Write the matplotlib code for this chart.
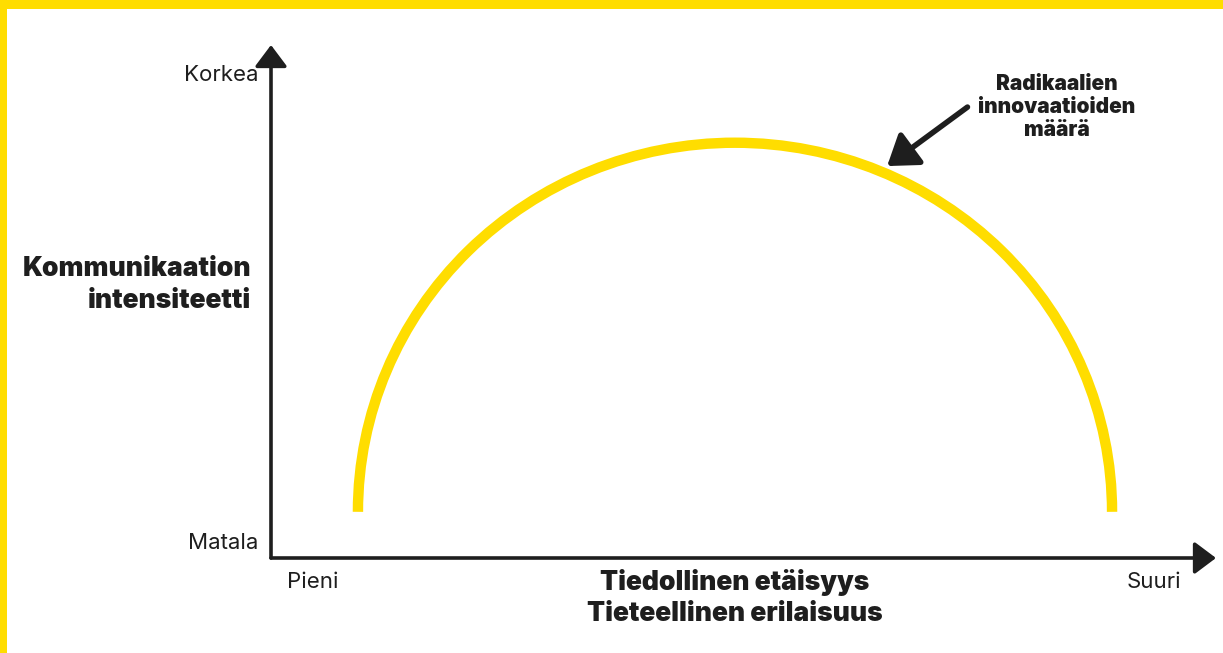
import matplotlib.pyplot as plt
from matplotlib.patches import Arc, Rectangle

# chart content
x_labels = ["Pieni", "Suuri"]
y_labels = ["Matala", "Korkea"]
x_title = ["Tiedollinen etäisyys", "Tieteellinen erilaisuus"]
y_title = ["Kommunikaation", "intensiteetti"]
curve_label = ["Radikaalien", "innovaatioiden", "määrä"]

# the curve (half ellipse) in axis units, 0..1 on both axes
arc_center = (0.491, 0.090)
arc_width = 0.798
arc_height = 1.439

# arrow pointing to the curve
note_xy = (0.652, 0.764)
note_text_xy = (0.737, 0.879)

YELLOW = "#FFDD00"
INK = "#1e1e1e"

plt.rcParams['font.family'] = ['Inter', 'DejaVu Sans']

fig = plt.figure(figsize=(12.23, 6.53), dpi=100)
fig.patch.set_facecolor("white")

# yellow frame on top and left
fig.add_artist(Rectangle((0, 1 - 9 / 653), 1, 9 / 653, transform=fig.transFigure,
                         facecolor=YELLOW, edgecolor="none"))
fig.add_artist(Rectangle((0, 0), 7 / 1223, 1, transform=fig.transFigure,
                         facecolor=YELLOW, edgecolor="none"))

ax = fig.add_axes([271 / 1223, (653 - 558) / 653, (1216 - 271) / 1223, (558 - 45) / 653])
ax.set_xlim(0, 1)
ax.set_ylim(0, 1)
ax.axis("off")

# axes with arrow heads
arrow_kw = dict(arrowstyle="-|>,head_length=0.6,head_width=0.45", color=INK, lw=2.6,
                mutation_scale=22, shrinkA=0, shrinkB=0)
ax.annotate("", xy=(1, 0), xytext=(0, 0), arrowprops=arrow_kw, annotation_clip=False)
ax.annotate("", xy=(0, 1), xytext=(0, 0), arrowprops=arrow_kw, annotation_clip=False)

# curve
ax.add_patch(Arc(arc_center, arc_width, arc_height, theta1=0, theta2=180,
                 color=YELLOW, lw=7.5, capstyle="butt"))

# curve annotation arrow
ax.annotate("", xy=note_xy, xytext=note_text_xy,
            arrowprops=dict(arrowstyle="-|>,head_length=0.8,head_width=0.55", color=INK,
                            lw=4, mutation_scale=22, shrinkA=0, shrinkB=0))
ax.text(1057 / 1223, 1 - 107 / 653, "\n".join(curve_label), transform=fig.transFigure,
        ha="center", va="center", fontsize=15, fontweight="black", color=INK,
        linespacing=1.21)

# tick-like labels
ax.text(258 / 1223, 1 - 75 / 653, y_labels[1], transform=fig.transFigure,
        ha="right", va="center", fontsize=16, color=INK)
ax.text(258 / 1223, 1 - 543 / 653, y_labels[0], transform=fig.transFigure,
        ha="right", va="center", fontsize=16, color=INK)
ax.text(287 / 1223, 1 - 582 / 653, x_labels[0], transform=fig.transFigure,
        ha="left", va="center", fontsize=16, color=INK)
ax.text(1181 / 1223, 1 - 582 / 653, x_labels[1], transform=fig.transFigure,
        ha="right", va="center", fontsize=16, color=INK)

# axis titles
ax.text(251 / 1223, 1 - 285 / 653, "\n".join(y_title), transform=fig.transFigure,
        ha="right", va="center", fontsize=19, fontweight="black", color=INK,
        linespacing=1.26, multialignment="right")
ax.text(735 / 1223, 1 - 598 / 653, "\n".join(x_title), transform=fig.transFigure,
        ha="center", va="center", fontsize=19, fontweight="black", color=INK,
        linespacing=1.26)

fig.savefig("out.png", dpi=100)
